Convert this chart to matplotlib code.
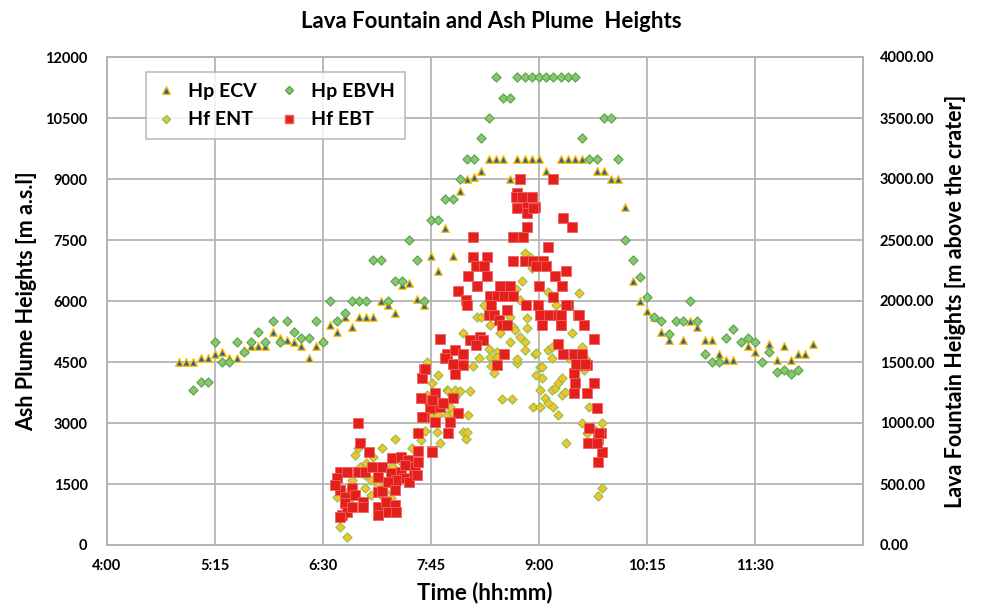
import matplotlib
matplotlib.use("Agg")
import matplotlib.pyplot as plt
from matplotlib.lines import Line2D

plt.rcParams['font.family'] = ['Lato', 'DejaVu Sans']

# Time values are minutes after 04:00
# ---- Hp ECV (ash plume, m a.s.l.) ----
ecv_t = [50, 55, 60, 65, 70, 75, 80, 85, 90, 95, 100, 105, 110, 115, 120, 125, 130, 135, 140, 145,
         150, 155, 160, 165, 170, 175, 180, 185, 190, 195, 200, 205, 210, 215, 220, 225, 230, 235, 240,
         245, 250, 255, 260, 265, 270, 275, 280, 285, 290, 295, 300, 305, 315, 320, 325, 330, 340, 345,
         350, 355, 360, 365, 370, 375, 380, 385, 390, 400, 405, 410, 415, 420, 425, 430, 435, 445, 450,
         460, 465, 470, 475, 480, 485, 490]
ecv_h = [4500, 4500, 4500, 4600, 4600, 4700, 4750, 4600, 4600, 4800, 4900, 4900, 4900, 5250, 5100,
         5050, 5000, 4900, 4600, 4900, 5050, 5400, 5250, 5600, 5350, 5600, 5600, 5600, 6000, 5900,
         5700, 6400, 6450, 6050, 5900, 7100, 6750, 7800, 7100, 8700, 9000, 9050, 9200, 9500, 9500,
         9500, 9000, 9500, 9500, 9500, 9500, 9200, 9500, 9500, 9500, 9500, 9200, 9200, 9000, 9000,
         8300, 6500, 6000, 5750, 5600, 5250, 5050, 5050, 5500, 5350, 5050, 5050, 4700, 4550, 4550,
         4900, 4750, 4950, 4550, 4900, 4550, 4700, 4700, 4950]

# ---- Hp EBVH (ash plume, m a.s.l.) ----
ebvh_t = [60, 65, 70, 75, 80, 85, 90, 95, 100, 105, 110, 115, 120, 125, 130, 135, 140, 145, 150, 155,
          160, 165, 170, 175, 180, 185, 190, 195, 200, 205, 210, 215, 220, 225, 230, 235, 240, 245,
          250, 255, 260, 265, 270, 275, 280, 285, 290, 295, 300, 305, 310, 315, 320, 325, 330, 335,
          340, 345, 350, 355, 360, 365, 370, 375, 380, 385, 390, 395, 400, 405, 410, 415, 420, 425,
          430, 435, 440, 445, 450, 455, 460, 465, 470, 475, 480]
ebvh_h = [3800, 4000, 4000, 5000, 4500, 4500, 5000, 4750, 5000, 5250, 5000, 5500, 5000, 5500, 5250,
          5100, 5100, 5500, 5000, 6000, 5500, 5700, 6000, 6000, 6000, 7000, 7000, 6000, 6500, 6500,
          7500, 7000, 6000, 8000, 8000, 8500, 8500, 9000, 9500, 9500, 10000, 10500, 11500, 11000,
          11000, 11500, 11500, 11500, 11500, 11500, 11500, 11500, 11500, 11500, 10000, 9500, 9500,
          10500, 10500, 9500, 7500, 7000, 6600, 6100, 5600, 5500, 5200, 5500, 5500, 6000, 5500, 4700,
          4500, 4500, 5100, 5300, 5000, 5100, 5000, 4500, 4750, 4250, 4300, 4200, 4300]

# ---- Hf ENT (lava fountain, m above the crater) ----
ent_t = [160, 160, 162, 167, 165, 165, 170, 170, 172, 174, 176, 179, 179, 180, 183, 183, 185, 188, 190,
         191, 193, 193, 197, 197, 198, 200, 200, 205, 212, 215, 218, 221, 222, 222, 222, 224, 224, 226,
         229, 230, 230, 231, 231, 236, 236, 237, 238, 240, 242, 242, 245, 247, 247, 249, 250, 251, 252,
         254, 257, 258, 260, 262, 264, 265, 266, 266, 267, 269, 271, 271, 273, 274, 275, 276, 280, 280,
         281, 282, 283, 284, 285, 285, 287, 287, 288, 290, 290, 290, 292, 292, 294, 295, 296, 297, 298,
         298, 301, 301, 301, 302, 302, 304, 306, 306, 306, 309, 309, 309, 310, 311, 312, 313, 313, 316,
         316, 318, 319, 321, 323, 328, 330, 331, 332, 333, 335, 330, 339, 344, 344, 341]
ent_v = [393, 467, 148, 66, 328, 434, 533, 393, 738, 795, 639, 574, 467, 672, 533, 410, 721, 492, 410,
         795, 492, 434, 590, 385, 648, 869, 492, 672, 795, 926, 861, 934, 1500, 1230, 1172, 1082, 1066,
         1328, 926, 1394, 1066, 1148, 836, 1271, 1066, 1262, 1131, 1082, 1271, 1213, 1262, 926, 1738,
         869, 926, 1066, 1262, 1467, 1869, 1533, 1869, 1967, 1885, 1607, 1803, 1541, 1467, 1410, 1582,
         1541, 1738, 1197, 1787, 1811, 1869, 1664, 1197, 1787, 1762, 2098, 1492, 1525, 2008, 1705, 2164,
         2394, 1664, 1598, 1861, 1779, 2361, 2271, 1131, 1566, 1574, 1394, 1459, 1271, 1131, 1369, 1459,
         1205, 2074, 1598, 1164, 1533, 1623, 1271, 1131, 1287, 1967, 1066, 1328, 1230, 1369, 1254, 836,
         1533, 1738, 2066, 1623, 1434, 1533, 918, 1131, 1000, 943, 1000, 467, 402]

# ---- Hf EBT (lava fountain, m above the crater) ----
ebt_t = [220, 219, 174, 228, 218, 224, 231, 220, 228, 226, 216, 176, 182, 162, 167, 174, 179, 184, 191,
         198, 204, 209, 214, 160, 188, 197, 204, 206, 213, 210, 201, 162, 170, 188, 191, 195, 200, 165,
         172, 178, 165, 188, 194, 200, 163, 167, 178, 188, 195, 201, 162, 170, 207, 216, 215, 158,
         254, 264, 256, 262, 282, 290, 296, 303, 298, 305, 251, 264, 257, 273, 280, 300, 311, 316, 319,
         244, 249, 250, 266, 271, 276, 282, 267, 278, 291, 299, 301, 307, 313, 320, 327, 331, 265, 269,
         272, 274, 278, 302, 315, 231, 252, 259, 261, 256, 313, 338, 236, 242, 247, 235, 240, 247, 271,
         276, 317, 324, 330, 327, 333, 221, 242, 324, 325, 338, 226, 240, 324, 333, 233, 244, 219, 238,
         237, 216, 340, 335, 343, 341, 334, 226, 344, 341,
         287, 310, 285, 284, 288, 295, 285, 292, 297, 292, 317, 323, 292, 254, 282, 289, 306, 296,
         310, 319, 315, 328, 315, 326, 332, 342, 340]
ebt_v = [1443, 1369, 1000, 1246, 1205, 1123, 1131, 1049, 1008, 770, 770, 836, 762, 598, 598, 598, 598,
         639, 639, 713, 721, 697, 639, 549, 557, 590, 598, 549, 574, 516, 533, 451, 467, 434, 443, 516,
         451, 393, 410, 352, 344, 311, 352, 328, 246, 270, 311, 246, 270, 270, 230, 311, 656, 680, 574,
         492,
         2361, 2361, 2287, 2287, 2328, 2328, 2328, 2328, 2287, 2287, 2205, 2205, 2123, 2123, 2123, 2123,
         2205, 2123, 2246, 2082, 2008, 1967, 2041, 2041, 2041, 2041, 1967, 1926, 1967, 1967, 1885, 1885,
         1885, 1967, 1885, 1803, 1885, 1885, 1844, 1803, 1803, 1803, 1803, 1689, 1680, 1705, 1680, 1639,
         1648, 1689, 1566, 1598, 1566, 1533, 1484, 1475, 1475, 1566, 1566, 1566, 1566, 1475, 1475, 1443,
         1402, 1410, 1328, 1328, 1189, 1205, 1246, 1246, 1164, 1082, 1049, 1008, 918, 918, 1123, 959, 918,
         869, 836, 762, 762, 680,
         3000, 3000, 2885, 2853, 2853, 2853, 2762, 2771, 2771, 2721, 2680, 2607, 2607, 2525, 2525, 2525,
         2443, 2762, 2033, 1967, 1803, 1885, 1885, 1484, 1484, 918, 836]

# ---- axis ticks ----
x_ticks = [0, 75, 150, 225, 300, 375, 450, 525]
x_labels = ['4:00', '5:15', '6:30', '7:45', '9:00', '10:15', '11:30', '']
left_ticks = [0, 1500, 3000, 4500, 6000, 7500, 9000, 10500, 12000]
right_ticks = [0, 500, 1000, 1500, 2000, 2500, 3000, 3500, 4000]

fig = plt.figure(figsize=(9.82, 6.13), dpi=100)
ax = fig.add_axes([107/982, 1-545/613, (863-107)/982, (545-57)/613])
ax2 = ax.twinx()

grid_c = '#b4b4b4'
ax.set_xlim(0, 525)
ax.set_ylim(0, 12000)
ax2.set_ylim(0, 4000)
ax.set_xticks(x_ticks)
ax.set_xticklabels(x_labels)
ax.set_yticks(left_ticks)
ax.set_yticklabels([str(v) for v in left_ticks])
ax2.set_yticks(right_ticks)
ax2.set_yticklabels([f'{v:.2f}' for v in right_ticks])
ax.grid(True, color=grid_c, linewidth=1.3)
ax.set_axisbelow(True)
for a in (ax, ax2):
    for s in a.spines.values():
        s.set_color(grid_c)
        s.set_linewidth(1.3)
ax.tick_params(axis='both', length=0, labelsize=10.5)
ax.tick_params(axis='y', pad=14)
ax.tick_params(axis='x', pad=10)
ax2.tick_params(axis='y', length=0, labelsize=10.5, pad=12)
for lab in ax.get_xticklabels() + ax.get_yticklabels() + ax2.get_yticklabels():
    lab.set_fontweight('bold')

tri_kw = dict(marker='^', s=30, c='#1f63b0', edgecolors='#ffc000', linewidths=1.0, zorder=3)
gd_kw = dict(marker='D', s=22, c='#85c870', edgecolors='#5fa04c', linewidths=0.8, zorder=3)
yd_kw = dict(marker='D', s=22, c='#f7c12a', edgecolors='#8cc152', linewidths=0.8, zorder=3)
rs_kw = dict(marker='s', s=46, c='#e3201c', edgecolors='#f06060', linewidths=0.6, zorder=4)

ax.scatter(ecv_t, ecv_h, **tri_kw)
ax.scatter(ebvh_t, ebvh_h, **gd_kw)
ax2.scatter(ent_t, ent_v, **yd_kw)
ax2.scatter(ebt_t, ebt_v, **rs_kw)

ax.set_ylabel('Ash Plume Heights [m a.s.l]', fontsize=15.5, fontweight='bold', labelpad=6)
ax2.set_ylabel('Lava Fountain Heights [m above the crater]', fontsize=15.5, fontweight='bold', labelpad=8)
ax.set_xlabel('Time (hh:mm)', fontsize=16, fontweight='bold', labelpad=6)
fig.text(491/982, 1-22/613, 'Lava Fountain and Ash Plume  Heights', ha='center', va='center',
         fontsize=16, fontweight='bold')

handles = [
    Line2D([], [], linestyle='none', marker='^', markersize=6, markerfacecolor='#1f63b0', markeredgecolor='#ffc000'),
    Line2D([], [], linestyle='none', marker='D', markersize=4.5, markerfacecolor='#f7c12a', markeredgecolor='#8cc152'),
    Line2D([], [], linestyle='none', marker='D', markersize=4.5, markerfacecolor='#85c870', markeredgecolor='#5fa04c'),
    Line2D([], [], linestyle='none', marker='s', markersize=6, markerfacecolor='#e3201c', markeredgecolor='#f06060'),
]
labels = ['Hp ECV', 'Hf ENT', 'Hp EBVH', 'Hf EBT']
leg = ax2.legend(handles, labels, ncol=2, loc='upper left', bbox_to_anchor=(39/756, (545-72)/488),
                 frameon=True, fancybox=False, edgecolor=grid_c, fontsize=14, columnspacing=1.2,
                 handletextpad=0.6, handlelength=1.0, borderpad=0.55, labelspacing=0.6,
                 borderaxespad=0)
leg.get_frame().set_linewidth(1.3)
for t in leg.get_texts():
    t.set_fontweight('bold')
leg.set_zorder(10)

fig.savefig('out.png', dpi=100)
